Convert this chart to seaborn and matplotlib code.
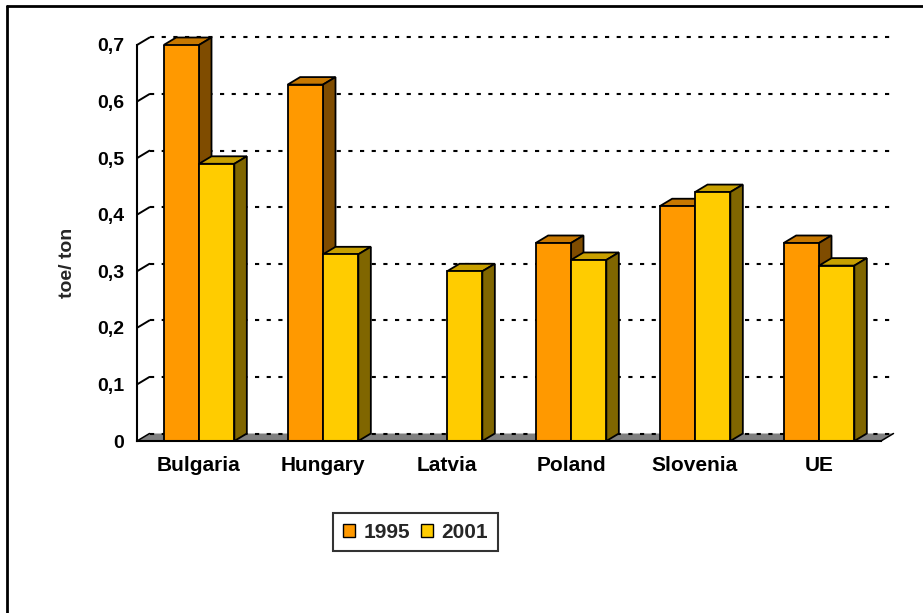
import numpy as np
import pandas as pd
import matplotlib
matplotlib.use("Agg")
import matplotlib.pyplot as plt
from matplotlib.patches import Polygon, Patch
from matplotlib.lines import Line2D
import seaborn as sns

# ---- data ----
countries = ["Bulgaria", "Hungary", "Latvia", "Poland", "Slovenia", "UE"]
years = ["1995", "2001"]
values_1995 = [0.70, 0.63, np.nan, 0.35, 0.415, 0.35]
values_2001 = [0.49, 0.33, 0.30, 0.32, 0.44, 0.31]
ytick_vals = [0, 0.1, 0.2, 0.3, 0.4, 0.5, 0.6, 0.7]
ytick_labels = ["0", "0,1", "0,2", "0,3", "0,4", "0,5", "0,6", "0,7"]
ylabel = "toe/ ton"

front_cols = ["#FF9900", "#FFCC00"]
top_cols = ["#C87800", "#C8A000"]
side_cols = ["#7F4C00", "#806600"]

df = pd.DataFrame({
    "country": countries * 2,
    "year": [years[0]] * len(countries) + [years[1]] * len(countries),
    "value": values_1995 + values_2001,
})

sns.set_theme(style="white")
plt.rcParams["font.family"] = ["Liberation Sans", "DejaVu Sans"]
plt.rcParams["font.weight"] = "bold"

W, H = 923, 613
fig = plt.figure(figsize=(W / 100, H / 100), dpi=100)
ax_l, ax_r, ax_t, ax_b = 137, 881, 45, 441
ax = fig.add_axes([ax_l / W, (H - ax_b) / H, (ax_r - ax_l) / W, (ax_b - ax_t) / H])

lw_bar = 1.3
sns.barplot(data=df, x="country", y="value", hue="year", order=countries,
            hue_order=years, palette=front_cols, width=0.57, saturation=1,
            edgecolor="black", linewidth=lw_bar, legend=False, ax=ax, zorder=5)

ax.set_xlim(-0.5, len(countries) - 0.5)
ax.set_ylim(0, 0.7)

# depth offsets in data units
px_x = (ax_r - ax_l) / len(countries)
px_y = (ax_b - ax_t) / 0.7
dxu = 12.5 / px_x
dyu = 7.5 / px_y

# 3D faces for each bar
for hi, cont in enumerate(ax.containers):
    for p in cont.patches:
        h = p.get_height()
        if h is None or not np.isfinite(h) or h <= 0:
            continue
        x0 = p.get_x()
        x1 = x0 + p.get_width()
        top = Polygon([(x0, h), (x1, h), (x1 + dxu, h + dyu), (x0 + dxu, h + dyu)],
                      closed=True, facecolor=top_cols[hi], edgecolor="black",
                      linewidth=lw_bar, zorder=3, clip_on=False)
        side = Polygon([(x1, 0), (x1 + dxu, dyu), (x1 + dxu, h + dyu), (x1, h)],
                       closed=True, facecolor=side_cols[hi], edgecolor="black",
                       linewidth=lw_bar, zorder=3, clip_on=False)
        ax.add_patch(top)
        ax.add_patch(side)

# floor
xl, xr = -0.5, len(countries) - 0.5
floor = Polygon([(xl, 0), (xr, 0), (xr + dxu, dyu), (xl + dxu, dyu)], closed=True,
                facecolor="#808080", edgecolor="none", zorder=1, clip_on=False)
ax.add_patch(floor)
ax.plot([xr, xr + dxu], [0, dyu], color="black", lw=1.1, zorder=1.5, clip_on=False)
ax.plot([xl, xl + dxu], [0, dyu], color="black", lw=1.1, zorder=1.5, clip_on=False)

# gridlines on the back wall
dash = (0, (2, 3.6))
for v in ytick_vals:
    ax.plot([xl + dxu, xr + dxu], [v + dyu, v + dyu], color="black", lw=1.5,
            linestyle=dash, zorder=1.2, clip_on=False)
    if v > 0:
        ax.plot([xl, xl + dxu], [v, v + dyu], color="black", lw=1.4,
                zorder=1.2, clip_on=False)

# axes styling
for s in ["top", "right"]:
    ax.spines[s].set_visible(False)
for s in ["left", "bottom"]:
    ax.spines[s].set_linewidth(1.5)
    ax.spines[s].set_color("black")
    ax.spines[s].set_zorder(6)

ax.set_yticks(ytick_vals)
ax.set_yticklabels(ytick_labels, fontsize=14, fontweight="bold")
ax.tick_params(axis="y", direction="out", length=5, width=1.5, pad=4, colors="black")

ax.set_xticks(range(len(countries)))
ax.set_xticklabels(countries, fontsize=15, fontweight="bold")
ax.set_xticks(np.arange(len(countries) + 1) - 0.5, minor=True)
ax.tick_params(axis="x", which="major", length=0, pad=11, colors="black")
ax.tick_params(axis="x", which="minor", direction="out", length=6, width=1.5, colors="black")
ax.set_xlabel("")
ax.set_ylabel("")

fig.text(68 / W, (H - 263) / H, ylabel, rotation=90, ha="center", va="center",
         fontsize=14, fontweight="bold")

# legend
handles = [Patch(facecolor=front_cols[i], edgecolor="black", linewidth=1.0) for i in range(2)]
leg = fig.legend(handles, years, loc="center",
                 bbox_to_anchor=((337 + 494) / 2 / W, (H - 532) / H),
                 ncol=2, frameon=True, fancybox=False, edgecolor="black",
                 prop={"size": 15, "weight": "bold"}, handlelength=0.6,
                 handleheight=0.6, handletextpad=0.4, columnspacing=0.5,
                 borderpad=0.45, borderaxespad=0)
leg.get_frame().set_linewidth(1.5)

# outer border (left & top)
fig.add_artist(Line2D([7 / W, 7 / W], [0, (H - 6) / H], color="black", lw=2,
                      transform=fig.transFigure))
fig.add_artist(Line2D([7 / W, 1], [(H - 6) / H, (H - 6) / H], color="black", lw=2,
                      transform=fig.transFigure))

fig.savefig("out.png", dpi=100)
